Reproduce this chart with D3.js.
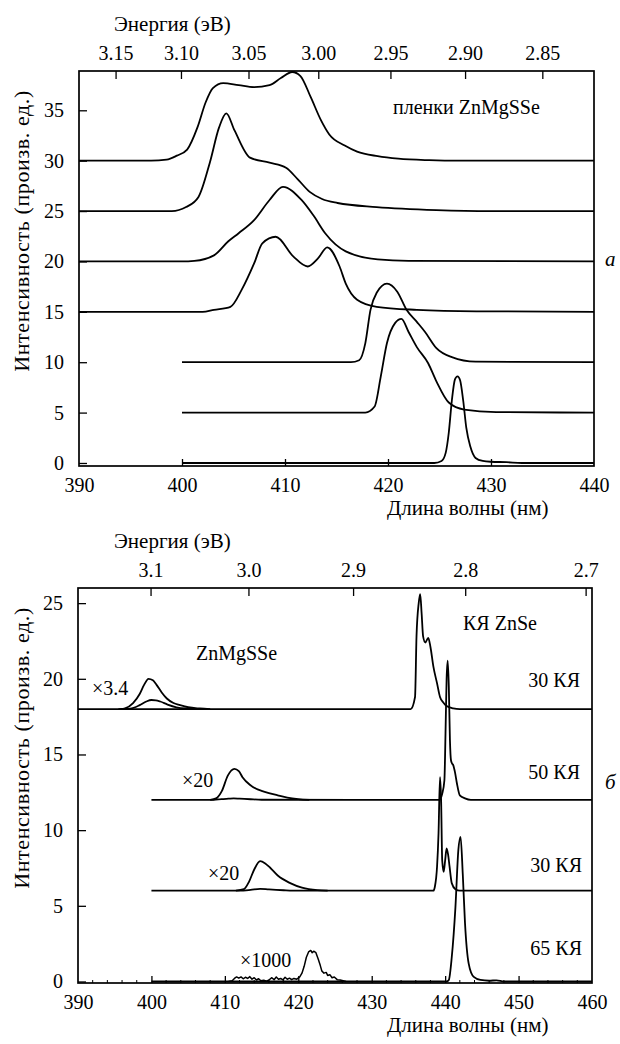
<!DOCTYPE html>
<html>
<head>
<meta charset="utf-8">
<script src="https://cdn.jsdelivr.net/npm/d3@7"></script>
<style>
  body { margin: 0; background: #fff; }
  svg { display: block; }
  svg text { font-family: "Liberation Serif", "Tinos", "Times New Roman", Times, "DejaVu Serif", serif !important; fill: #000; }
</style>
</head>
<body>
<div id="chart"></div>
<script>
// ---- panel a: ZnMgSSe films (wavelength nm, intensity) ----
const film30 = [[390,30],[397,30],[398.5,30.1],[399.5,30.5],[400.5,31.1],[401.5,33.3],[402.3,35.8],[403,37.2],[404,37.7],[405.5,37.5],[407,37.3],[408.5,37.5],[409.6,38.2],[410.7,38.8],[411.5,38.4],[412.5,36.3],[413.5,34],[414.3,32.6],[415.8,31.5],[417,30.9],[419,30.45],[421,30.2],[424,30.05],[427,30],[440,30]];
const film25 = [[390,25],[399,25],[400.4,25.4],[401.6,26.4],[402.7,29.8],[403.6,33.3],[404.3,34.7],[405.1,33.0],[406.6,30.3],[408.5,29.8],[410.1,29.3],[411.2,28.2],[412.4,26.9],[413.6,26.2],[415.1,25.8],[418.9,25.4],[424.7,25.1],[430,25],[440,25]];
const film20 = [[390,20],[400,20],[401.2,20.05],[403.1,20.6],[404.5,22.0],[405.5,22.8],[407,24.1],[408.5,26.1],[409.8,27.4],[411.6,26.1],[412.8,24.5],[413.9,22.8],[415.9,21.0],[419,20.2],[422,20.05],[440,20]];
const film15 = [[390,15],[402,15],[403.1,15.2],[404.7,15.5],[405.8,17.2],[407,19.8],[407.8,21.8],[409.1,22.45],[410.8,20.5],[412.2,19.5],[413.2,20.3],[414.1,21.4],[415.3,19.5],[415.9,17.8],[417,16.2],[418.9,15.5],[422.8,15.2],[428.6,15.05],[440,15]];
const film10 = [[400,10],[416.4,10],[417.2,10.2],[417.8,11.9],[418.3,15.2],[418.9,16.9],[419.9,17.8],[420.9,17.0],[421.8,15.2],[422.8,14.0],[423.6,13.0],[424.7,11.4],[426.2,10.5],[428.5,10.05],[440,10]];
const film5 = [[400,5],[417.8,5],[418.7,5.6],[419.3,8.6],[419.9,11.9],[420.7,13.9],[421.3,14.3],[422,13],[422.8,11.5],[423.9,9.9],[424.7,8.1],[425.9,6],[427.4,5.3],[430.5,5.05],[440,5]];
const film0 = [[400,0],[424.5,0],[425.2,0.2],[425.6,1],[425.9,3],[426.2,6.2],[426.5,8.3],[426.75,8.6],[427,8.2],[427.3,6.2],[427.6,3.5],[428,1.6],[428.5,0.5],[429.2,0.2],[430,0.12],[431.5,0.08],[433,0],[440,0]];

// ---- panel б: ZnSe quantum wells ----
const qw30a = [[390,18],[435.3,18],[435.9,18.8],[436.1,22.8],[436.4,25],[436.6,25.6],[436.8,24.3],[437,22.8],[437.3,22.4],[437.7,22.7],[438,22.1],[438.4,20.8],[438.9,19.7],[439.3,18.8],[439.8,18.4],[440.2,18.2],[441.1,18.05],[442,18],[460,18]];
const qw30aWeak = [[395.5,18],[397.1,18.03],[398.4,18.26],[399.3,18.5],[400,18.6],[400.6,18.58],[401.2,18.5],[402.2,18.3],[403.4,18.12],[405,18.03],[406.5,18]];
const qw30aX34 = [[395.8,18],[396.4,18.05],[397.5,18.4],[398.4,19.0],[399,19.6],[399.6,20.0],[400.2,19.9],[400.7,19.6],[401.4,19.1],[402.1,18.7],[403,18.4],[403.9,18.26],[405,18.12],[406.6,18.04],[408,18]];
const qw50 = [[400,12],[408.5,12],[409.5,12.05],[410.5,12.08],[411.2,12.1],[412,12.08],[413.5,12.04],[415,12.01],[439.2,12],[439.6,12.4],[439.9,13.3],[440.05,16.4],[440.2,20],[440.35,21.2],[440.5,19.5],[440.65,16],[440.8,14.6],[440.95,14.4],[441.1,14.3],[441.35,13.8],[441.6,13.1],[442,12.3],[442.7,12.1],[443.5,12],[460,12]];
const qw50X20 = [[408,12],[408.8,12.1],[409.6,12.6],[410.4,13.6],[411.3,14.05],[411.9,13.9],[412.4,13.5],[413.4,13.0],[414.2,12.75],[415,12.6],[416,12.45],[417.2,12.3],[418.5,12.15],[420,12.05],[421.5,12]];
const qw30b = [[400,6],[412,6],[413.5,6.05],[414.8,6.12],[416,6.08],[418,6.03],[420,6],[438.4,6],[438.6,6.26],[438.9,7.6],[439.1,9.8],[439.3,13.5],[439.45,12],[439.6,8.0],[439.8,7.25],[440.0,8.0],[440.2,8.8],[440.4,8.4],[440.6,7.6],[440.9,6.5],[441.4,6.1],[442,6],[460,6]];
const qw30bX20 = [[411.5,6],[412.6,6.1],[413.3,6.6],[414,7.4],[414.8,7.95],[415.5,7.8],[416.2,7.5],[417.2,7.0],[418.9,6.5],[420.5,6.2],[422.6,6.03],[424,6]];
const qw65 = [[400,0],[440.2,0],[440.5,0.1],[440.9,1.6],[441.4,4.9],[441.8,8.7],[442.1,9.56],[442.4,7.1],[442.7,3.9],[443.2,1.2],[443.9,0.3],[444.8,0.1],[446,0.05],[447,0.08],[448,0],[460,0]];
const qw65X1000 = [[410.5,0],[411,0.05],[411.3,0.2],[411.6,0.3],[411.9,0.22],[412.2,0.3],[412.5,0.18],[412.8,0.28],[413.1,0.2],[413.4,0.32],[413.7,0.15],[414,0.25],[414.3,0.1],[414.6,0.18],[414.9,0.05],[415.3,0.08],[415.7,0.02],[416,0.1],[416.4,0.25],[416.7,0.12],[417,0.3],[417.3,0.15],[417.6,0.2],[417.9,0.1],[418.2,0.28],[418.5,0.15],[418.8,0.22],[419.1,0.12],[419.4,0.2],[419.8,0.15],[420.2,0.3],[420.5,0.55],[420.8,1.0],[421.1,1.6],[421.4,1.95],[421.7,2.05],[421.9,1.9],[422.1,2.0],[422.4,1.9],[422.7,1.5],[423.0,1.05],[423.2,0.7],[423.5,0.55],[423.8,0.6],[424.0,0.4],[424.3,0.45],[424.6,0.25],[424.9,0.3],[425.3,0.12],[425.7,0.1],[426.1,0.05],[426.5,0]];

// ticks
const topWaveTicks = [390, 400, 410, 420, 430, 440];
const topEnergyTicks = [3.15, 3.10, 3.05, 3.00, 2.95, 2.90, 2.85];
const topIntTicks = [0, 5, 10, 15, 20, 25, 30, 35];
const botWaveTicks = [390, 400, 410, 420, 430, 440, 450, 460];
const botEnergyTicks = [3.1, 3.0, 2.9, 2.8, 2.7];
const botIntTicks = [0, 5, 10, 15, 20, 25];

const HC = 1239.84; // eV*nm
const FS = 20;

const svg = d3.select("#chart").append("svg")
    .attr("width", 620)
    .attr("height", 1044);

const lineW = 1.8;

function panel(cfg) {
    const x = d3.scaleLinear().domain(cfg.xDomain).range([cfg.left, cfg.right]);
    const y = d3.scaleLinear().domain(cfg.yDomain).range([cfg.bottom, cfg.top]);
    const g = svg.append("g");

    // curves
    const smooth = d3.line().x(d => x(d[0])).y(d => y(d[1])).curve(d3.curveMonotoneX);
    const raw = d3.line().x(d => x(d[0])).y(d => y(d[1]));
    g.append("g")
        .selectAll("path")
        .data(cfg.series)
        .join("path")
        .attr("fill", "none")
        .attr("stroke", "#000")
        .attr("stroke-width", d => d.noisy ? 1.5 : lineW)
        .attr("stroke-linejoin", "round")
        .attr("d", d => (d.noisy ? raw : smooth)(d.pts));

    // frame
    g.append("rect")
        .attr("x", cfg.left).attr("y", cfg.top)
        .attr("width", cfg.right - cfg.left).attr("height", cfg.bottom - cfg.top)
        .attr("fill", "none").attr("stroke", "#000").attr("stroke-width", 1.7);

    // bottom wavelength axis (inward ticks)
    const bx = g.append("g").attr("transform", `translate(0,${cfg.bottom})`)
        .call(d3.axisBottom(x).tickValues(cfg.waveTicks).tickSizeInner(-7).tickSizeOuter(0).tickPadding(12).tickFormat(d3.format("d")));
    bx.attr("font-family", null).attr("font-size", null);
    bx.select(".domain").remove();
    bx.selectAll(".tick line").attr("stroke-width", 1.3)
        .attr("display", d => (d === cfg.xDomain[0] || d === cfg.xDomain[1]) ? "none" : null);
    bx.selectAll("text").attr("font-size", FS);
    if (cfg.minor) {
        g.append("g").selectAll("line")
            .data(d3.range(cfg.xDomain[0] + 2, cfg.xDomain[1], 2).filter(v => v % 10 !== 0))
            .join("line")
            .attr("x1", d => x(d)).attr("x2", d => x(d))
            .attr("y1", cfg.bottom).attr("y2", cfg.bottom - 3)
            .attr("stroke", "#000").attr("stroke-width", 1);
    }

    // left intensity axis (inward ticks)
    const ly = g.append("g").attr("transform", `translate(${cfg.left},0)`)
        .call(d3.axisLeft(y).tickValues(cfg.intTicks).tickSizeInner(-8).tickSizeOuter(0).tickPadding(15));
    ly.attr("font-family", null).attr("font-size", null);
    ly.select(".domain").remove();
    ly.selectAll(".tick line").attr("stroke-width", 1.3);
    ly.selectAll("text").attr("font-size", FS);

    // top energy axis
    const et = g.append("g");
    et.selectAll("line").data(cfg.energyTicks).join("line")
        .attr("x1", d => x(HC / d)).attr("x2", d => x(HC / d))
        .attr("y1", cfg.top).attr("y2", cfg.top + 8)
        .attr("stroke", "#000").attr("stroke-width", 1.3);
    et.selectAll("text").data(cfg.energyTicks).join("text")
        .attr("x", d => x(HC / d)).attr("y", cfg.top - 11)
        .attr("text-anchor", "middle").attr("font-size", FS)
        .text(d => d3.format(cfg.energyFmt)(d));

    // titles
    g.append("text").attr("x", 114).attr("y", cfg.top - 40)
        .attr("font-size", FS + 1).text("Энергия (эВ)");
    g.append("text").attr("x", 387).attr("y", cfg.bottom + 49)
        .attr("font-size", FS + 1).text("Длина волны (нм)");
    g.append("text")
        .attr("transform", `translate(29,${cfg.top + 160}) rotate(-90)`)
        .attr("text-anchor", "middle").attr("font-size", 22)
        .attr("letter-spacing", 0.6)
        .text("Интенсивность (произв. ед.)");
    g.append("text").attr("x", 605).attr("y", cfg.letterY)
        .attr("font-size", FS + 1).attr("font-style", "italic").text(cfg.letter);

    // annotations
    g.append("g").selectAll("text").data(cfg.notes).join("text")
        .attr("x", d => d.x).attr("y", d => d.y)
        .attr("text-anchor", d => d.anchor || "start")
        .attr("font-size", FS)
        .text(d => d.t);
}

panel({
    left: 79, right: 594, top: 71, bottom: 466,
    xDomain: [390, 440], yDomain: [-0.3, 38.9],
    waveTicks: topWaveTicks, intTicks: topIntTicks,
    energyTicks: topEnergyTicks, energyFmt: ".2f",
    series: [film30, film25, film20, film15, film10, film5, film0].map(p => ({ pts: p })),
    letter: "а", letterY: 266,
    notes: [{ t: "пленки ZnMgSSe", x: 393, y: 114 }]
});

panel({
    left: 78, right: 592, top: 588, bottom: 983,
    xDomain: [390, 460], yDomain: [-0.1, 26],
    waveTicks: botWaveTicks, intTicks: botIntTicks,
    energyTicks: botEnergyTicks, energyFmt: ".1f", minor: true,
    series: [
        { pts: qw30a }, { pts: qw30aWeak }, { pts: qw30aX34 },
        { pts: qw50 }, { pts: qw50X20 },
        { pts: qw30b }, { pts: qw30bX20 },
        { pts: qw65 }, { pts: qw65X1000, noisy: true }
    ],
    letter: "б", letterY: 789,
    notes: [
        { t: "ZnMgSSe", x: 196, y: 660 },
        { t: "КЯ ZnSe", x: 463, y: 630 },
        { t: "30 КЯ", x: 580, y: 687, anchor: "end" },
        { t: "50 КЯ", x: 580, y: 779, anchor: "end" },
        { t: "30 КЯ", x: 582, y: 872, anchor: "end" },
        { t: "65 КЯ", x: 582, y: 955, anchor: "end" },
        { t: "×3.4", x: 92, y: 695 },
        { t: "×20", x: 182, y: 787 },
        { t: "×20", x: 208, y: 880 },
        { t: "×1000", x: 240, y: 967 }
    ]
});
</script>
</body>
</html>
